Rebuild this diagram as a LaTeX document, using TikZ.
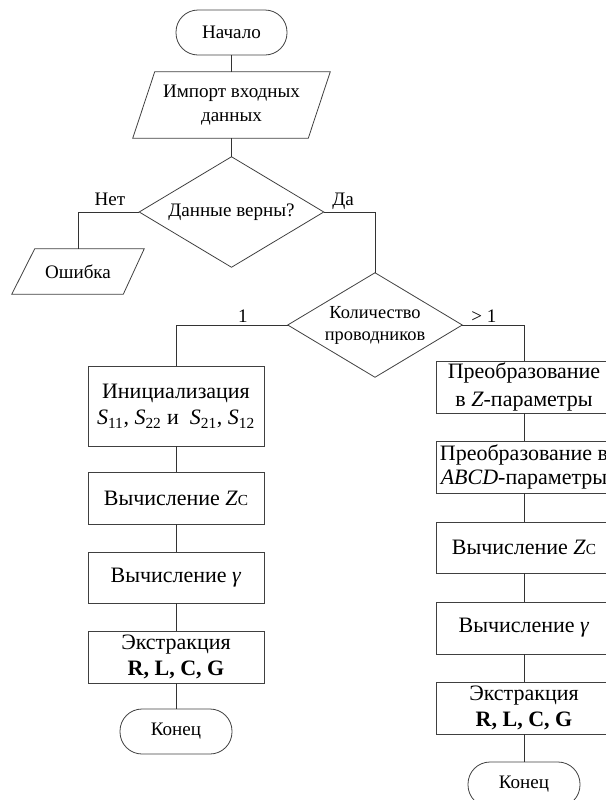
\documentclass[tikz,border=0pt]{standalone}
\usepackage{fontspec}
\setmainfont{Liberation Serif}
\usetikzlibrary{calc}
\begin{document}
\begin{tikzpicture}[x=0.75pt,y=-0.75pt,
  base/.style={inner sep=0pt, align=center, font=\fontsize{14.3}{17.5}\selectfont},
  term/.style={base, draw=black!75, line width=0.6pt, rounded corners=16.5pt, minimum width=84pt, minimum height=33.75pt},
  box/.style={base, draw=black!75, line width=0.6pt, minimum width=132pt, minimum height=39pt, font=\fontsize{16.5}{20}\selectfont},
  ghost/.style={base},
  shapeline/.style={draw=black!75, line width=0.6pt},
  conn/.style={draw=black!80, line width=0.75pt},
  lbl/.style={base, anchor=base}
]
\useasboundingbox (0,0) rectangle (606,800);
% top part
\node[term, minimum width=83.25pt] (start) at (231.5,32.5) {Начало};
\node[ghost, minimum width=147.75pt, minimum height=49.5pt] (imp) at (231.5,105) {Импорт входных\\данных};
\draw[shapeline] ($(imp.north west)+(22,0)$) -- (imp.north east) -- ($(imp.south east)+(-22,0)$) -- (imp.south west) -- cycle;
\node[ghost, minimum width=138pt, minimum height=82.5pt] (d1) at (231.5,212) {Данные верны?};
\draw[shapeline] (d1.north) -- (d1.east) -- (d1.south) -- (d1.west) -- cycle;
\node[ghost, minimum width=99pt, minimum height=33.75pt] (err) at (78,271.5) {Ошибка};
\draw[shapeline] ($(err.north west)+(23,0)$) -- (err.north east) -- ($(err.south east)+(-21,0)$) -- (err.south west) -- cycle;
\node[ghost, minimum width=130.5pt, minimum height=78pt, font=\fontsize{13.8}{16.5}\selectfont] (d2) at (375,325) {Количество\\проводников};
\draw[shapeline] (d2.north) -- (d2.east) -- (d2.south) -- (d2.west) -- cycle;
% left column
\node[box, minimum height=60pt] (init) at (176,406) {Инициализация\\{\itshape S}\textsubscript{11}, {\itshape S}\textsubscript{22} и\ \ {\itshape S}\textsubscript{21}, {\itshape S}\textsubscript{12}};
\node[box] (zcl) at (176,498) {Вычисление \textit{Z}{\fontsize{11.5}{12}\selectfont C}};
\node[box, minimum height=38.25pt] (gl) at (176,577.5) {Вычисление \textit{γ}};
\node[box, font=\fontsize{16.5}{19}\selectfont] (exl) at (176,657) {Экстракция\\\textbf{R, L, C, G}};
\node[term] (endl) at (176,731.5) {Конец};
% right column
\node[box, font=\fontsize{16.5}{21}\selectfont] (p1) at (524,387) {Преобразование\\в \textit{Z}-параметры};
\node[box, font=\fontsize{16.5}{18}\selectfont] (p2) at (524,467) {Преобразование в\\\textit{ABCD}-параметры};
\node[box, minimum height=38.25pt] (zcr) at (524,547.5) {Вычисление \textit{Z}{\fontsize{11.5}{12}\selectfont C}};
\node[box] (gr) at (524,628) {Вычисление \textit{γ}};
\node[box, font=\fontsize{16.5}{19}\selectfont] (exr) at (524,708) {Экстракция\\\textbf{R, L, C, G}};
\node[term] (endr) at (524,784.5) {Конец};
% connectors
\draw[conn] (start.south) -- (imp.north);
\draw[conn] (imp.south) -- (d1.north);
\draw[conn] (d1.west) -| (err.north);
\draw[conn] (d1.east) -| (d2.north);
\draw[conn] (d2.west) -| (init.north);
\draw[conn] (d2.east) -| (p1.north);
\draw[conn] (init.south) -- (zcl.north);
\draw[conn] (zcl.south) -- (gl.north);
\draw[conn] (gl.south) -- (exl.north);
\draw[conn] (exl.south) -- (endl.north);
\draw[conn] (p1.south) -- (p2.north);
\draw[conn] (p2.south) -- (zcr.north);
\draw[conn] (zcr.south) -- (gr.north);
\draw[conn] (gr.south) -- (exr.north);
\draw[conn] (exr.south) -- (endr.north);
% labels
\node[lbl] (lno) at (110,205) {Нет};
\node[lbl] (lyes) at (343,205) {Да};
\node[lbl] (lone) at (243,322) {1};
\node[lbl] (lmore) at (484,322) {> 1};
\end{tikzpicture}
\end{document}
